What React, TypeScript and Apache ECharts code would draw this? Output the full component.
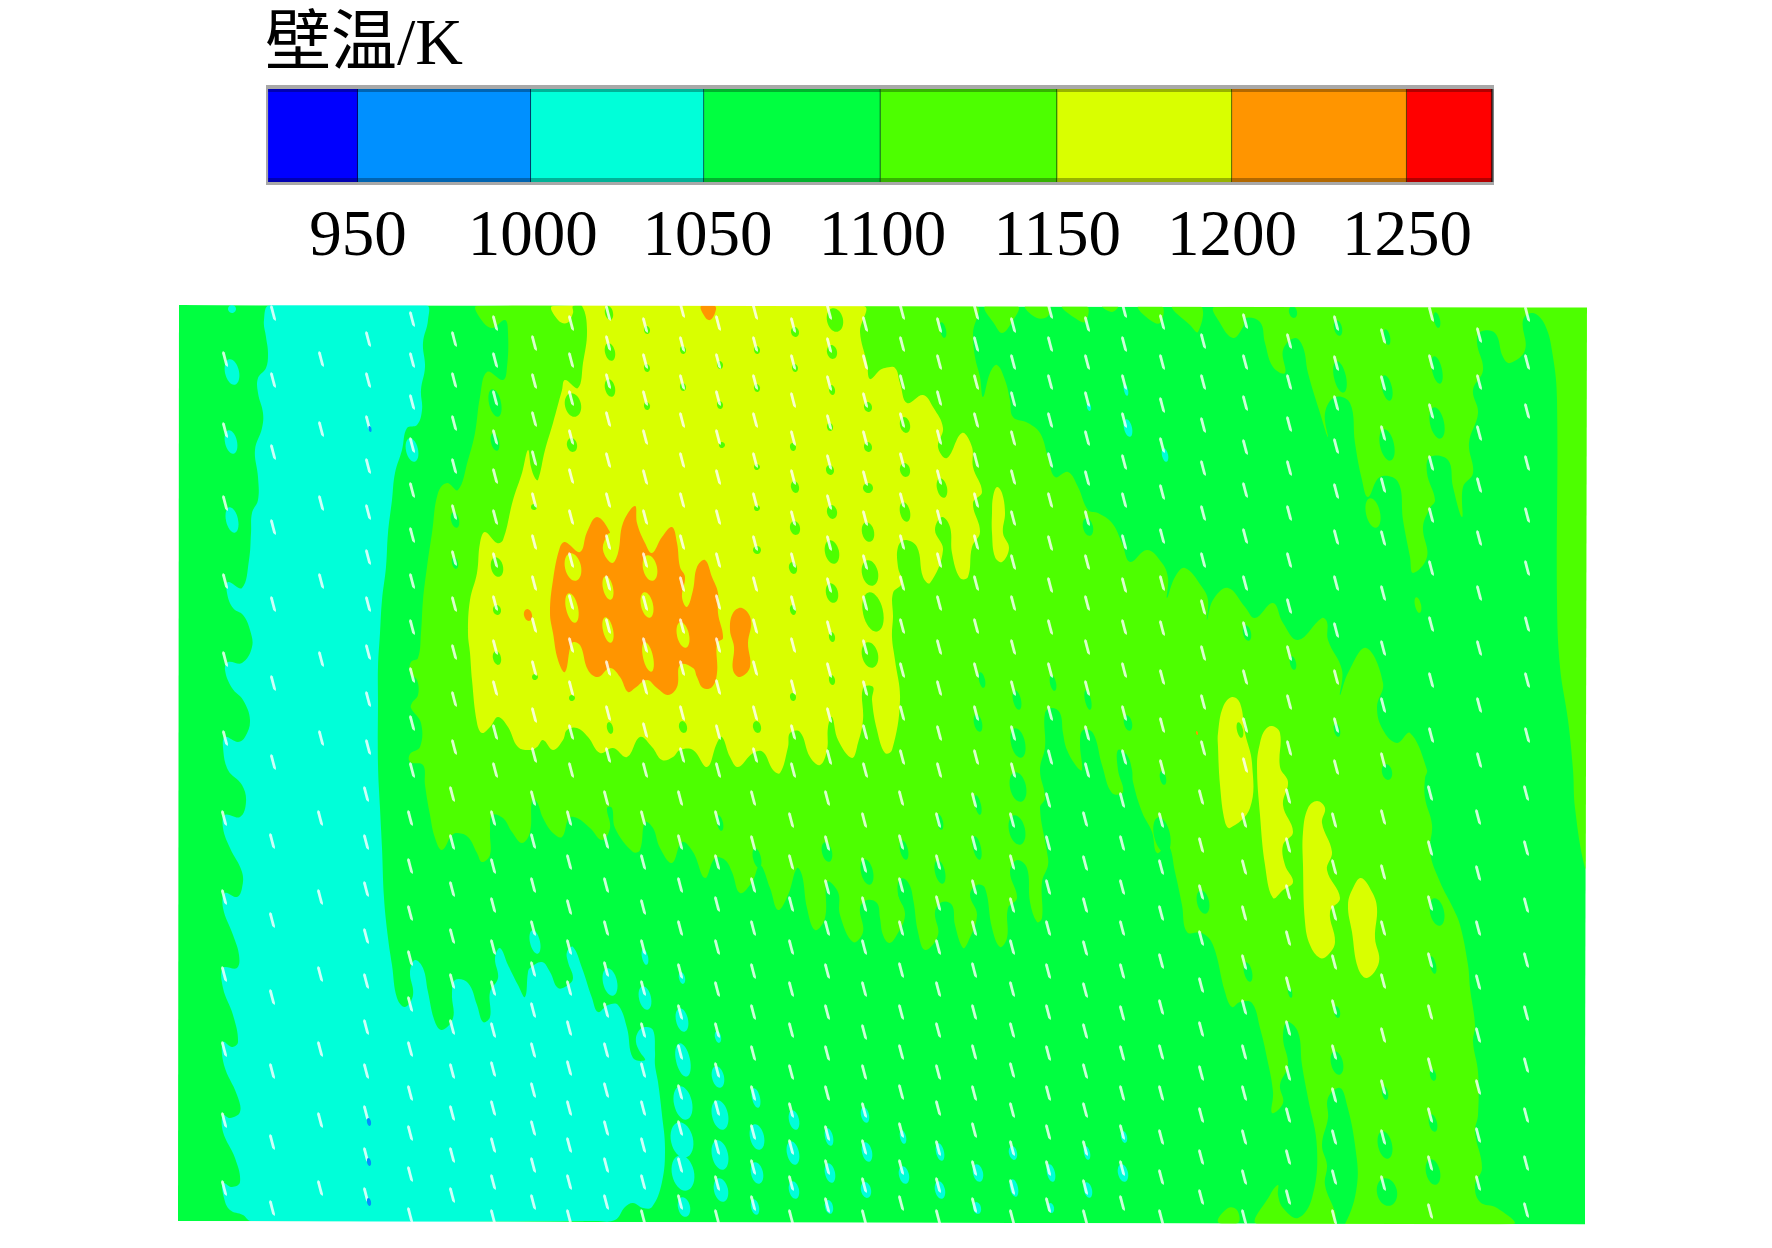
import React, { useEffect, useRef } from "react";
import * as echarts from "echarts";

type Pt = number[];

const BAND_COLORS = ["#0000ff", "#0090ff", "#00ffd9", "#00ff40", "#4dff00", "#d9ff00", "#ff9500", "#ff0000"];
const CYAN = BAND_COLORS[2], GREEN = BAND_COLORS[3], LIME = BAND_COLORS[4], YELLOW = BAND_COLORS[5], ORANGE = BAND_COLORS[6];

const barTitle = "壁温/K";
const barTicks = [950, 1000, 1050, 1100, 1150, 1200, 1250];
const barEdges = [924.3, 950, 999.5, 1049, 1099.5, 1150, 1200, 1250, 1274.3];

const fieldOutline: Pt[] = [[179, 305], [1587, 307.5], [1585, 1224.5], [178, 1221]];

const cyanMain: Pt[] = [
  [270, 305], [264, 320], [266, 337], [268, 353], [266, 368], [258, 378], [258, 393], [263, 413], [262, 428], [255, 450], [258, 477], [258, 500], [252, 513], [251, 533], [249, 560], [242, 588], [228, 582], [227, 593], [233, 608], [243, 615], [250, 630], [252, 647], [242, 663], [228, 662], [225, 670], [232, 688], [243, 700], [250, 720], [245, 737], [238, 742], [225, 737], [223, 747], [228, 770],
  [242, 785], [246, 802], [240, 817], [225, 815], [223, 828], [230, 848], [242, 872], [242, 888], [237, 897], [225, 893], [223, 908], [233, 935], [239, 955], [237, 968], [223, 968], [223, 988], [233, 1015], [238, 1042], [232, 1047], [223, 1042], [224, 1065], [237, 1095], [240, 1112], [230, 1118], [223, 1115], [223, 1132], [235, 1158], [240, 1182], [232, 1187], [223, 1183], [224, 1198], [230, 1210], [243, 1215], [251, 1221],
  [595, 1221], [615, 1220], [625, 1207], [633, 1203], [643, 1208], [652, 1207], [662, 1182], [665, 1148], [662, 1115], [658, 1082], [655, 1065], [655, 1052], [653, 1030], [645, 1027], [638, 1032], [636, 1042], [640, 1052], [645, 1060], [633, 1058], [627, 1028], [618, 1005], [608, 1005], [598, 1012], [592, 998], [582, 968], [573, 947], [567, 952], [568, 962], [573, 978], [568, 985], [558, 988], [550, 972], [542, 962], [530, 968], [528, 972], [525, 997], [518, 985], [508, 965], [500, 948], [495, 958], [498, 978], [490, 992], [490, 1017], [483, 1022], [477, 1005], [468, 983], [455, 980], [452, 995], [453, 1018], [442, 1030], [435, 1022], [428, 992], [423, 968], [415, 960], [410, 972], [413, 995], [405, 1007], [397, 998], [392, 965], [388, 938], [384, 898], [382, 848], [380, 808], [378, 765],
  [378, 700], [378, 667], [380, 633], [382, 600], [386, 567], [388, 533], [392, 500], [395, 473], [402, 450], [407, 428], [417, 425], [422, 410], [421, 390], [425, 367], [423, 343], [428, 320], [426, 305],
];

const limeCentral: Pt[] = [
  [477, 306], [975, 306], [973, 333], [975, 357], [980, 377], [983, 397], [990, 373], [997, 365], [1005, 380], [1010, 400], [1013, 417], [1028, 423], [1040, 433], [1048, 457], [1055, 477], [1068, 472], [1078, 487], [1088, 510], [1098, 513], [1112, 523], [1122, 543], [1130, 562], [1147, 550], [1162, 563], [1168, 578], [1167, 598], [1175, 577], [1185, 568], [1202, 587], [1208, 600], [1207, 620], [1213, 600], [1228, 588], [1245, 607],
  [1255, 618], [1273, 603], [1283, 623], [1298, 640], [1322, 618], [1327, 622], [1328, 640], [1342, 670], [1340, 695], [1348, 673], [1366, 648], [1383, 683], [1377, 707], [1383, 730], [1397, 743], [1410, 733], [1427, 770],
  [1425, 778], [1425, 798], [1432, 825], [1430, 852], [1440, 882], [1453, 908], [1460, 925], [1468, 965], [1470, 988], [1475, 1025], [1473, 1042], [1478, 1072], [1478, 1115], [1475, 1132], [1482, 1168], [1475, 1185], [1480, 1202], [1497, 1208], [1513, 1224],
  [1258, 1224], [1270, 1195], [1278, 1185], [1278, 1195], [1283, 1208], [1298, 1218], [1312, 1198], [1317, 1148], [1308, 1098], [1302, 1065], [1298, 1032], [1287, 1022], [1283, 1038], [1288, 1065], [1280, 1085], [1283, 1103], [1272, 1113], [1273, 1092], [1267, 1058], [1260, 1028], [1252, 1003], [1240, 1002],
  [1232, 1007], [1225, 992], [1213, 945], [1202, 933], [1187, 932], [1182, 905], [1175, 872], [1168, 845], [1157, 853], [1152, 832], [1142, 812], [1133, 782], [1132, 770], [1127, 755], [1118, 750], [1118, 770], [1123, 792], [1112, 793], [1102, 765], [1093, 733], [1083, 730], [1080, 743], [1082, 770], [1077, 767], [1067, 750], [1063, 733], [1060, 713], [1052, 708], [1045, 713], [1045, 747], [1040, 770],
  [1045, 798], [1040, 808], [1047, 852], [1048, 865], [1042, 882], [1042, 918], [1037, 922], [1030, 902], [1027, 868], [1017, 860], [1010, 872], [1017, 898], [1008, 908], [1007, 938], [1000, 947], [992, 928], [985, 888], [977, 885], [970, 895], [977, 915], [968, 942], [963, 948], [955, 925], [952, 905], [942, 902], [935, 912], [938, 935], [925, 950], [918, 932], [912, 895], [905, 885], [898, 892], [905, 915], [895, 938], [889, 943],
  [883, 935], [880, 918], [877, 903], [867, 900], [860, 908], [863, 932], [853, 942], [840, 915], [838, 892], [827, 882], [825, 918], [815, 930], [807, 908], [802, 875], [797, 868], [788, 895], [778, 910], [770, 888], [760, 865], [752, 882], [740, 893], [732, 872], [725, 860], [715, 858], [705, 878], [693, 852], [682, 842], [672, 863], [660, 848], [653, 828], [645, 822], [640, 850], [633, 852], [615, 828], [612, 808], [607, 808], [610, 828], [602, 840], [590, 828], [577, 818], [569, 818], [562, 837], [553, 833], [543, 818], [537, 802],
  [532, 800], [530, 832], [522, 843], [512, 832], [503, 818], [492, 815], [490, 832], [490, 855], [482, 862], [477, 853], [468, 837], [458, 833], [452, 835], [442, 850], [435, 838], [430, 815], [425, 785], [423, 765],
  [410, 762], [410, 754], [420, 747], [421, 723], [411, 708], [412, 703], [418, 695], [417, 680], [410, 673], [411, 662], [418, 658], [421, 633], [423, 600], [427, 567], [432, 533], [438, 493], [447, 483], [458, 490], [468, 460], [475, 433], [480, 397], [487, 372], [503, 380], [507, 367], [508, 333], [505, 320], [492, 328], [480, 318],
];

const limeEast: Pt[] = [
  [1215, 307], [1220, 323], [1233, 338], [1243, 327], [1245, 318], [1260, 322], [1265, 343], [1273, 367], [1285, 373], [1283, 350], [1295, 338], [1303, 347], [1308, 373], [1320, 413], [1328, 437], [1325, 413], [1335, 397], [1350, 403], [1355, 443], [1362, 480], [1368, 497], [1380, 477], [1398, 482], [1403, 520], [1410, 557], [1413, 573], [1427, 557], [1423, 527], [1430, 508], [1435, 500], [1427, 473], [1430, 457], [1448, 460], [1453, 487], [1462, 517], [1463, 487], [1473, 473], [1469, 443], [1478, 413], [1473, 390], [1483, 370], [1477, 343], [1480, 332], [1495, 333], [1503, 357], [1510, 363], [1525, 350], [1523, 320], [1533, 313], [1545, 325], [1553, 357], [1557, 400], [1557, 600], [1560, 667], [1568, 720], [1573, 770], [1575, 808], [1585, 868], [1590, 868], [1590, 307],
];

const limeTopBumps: Pt[][] = [
  [[985, 306], [995, 325], [1002, 333], [1010, 325], [1018, 306]],
  [[1025, 306], [1037, 318], [1048, 316], [1048, 306]],
  [[1062, 306], [1075, 318], [1085, 322], [1087, 306]],
  [[1102, 306], [1112, 312], [1118, 306]],
  [[1138, 306], [1150, 320], [1160, 323], [1162, 306]],
  [[1172, 306], [1190, 325], [1198, 332], [1201, 306]],
  [[1218, 1222], [1228, 1208], [1237, 1210], [1238, 1223]],
];

const greenPillar: Pt[] = [[1340, 1088], [1347, 1105], [1355, 1145], [1357, 1185], [1345, 1224], [1337, 1224], [1335, 1212], [1325, 1185], [1327, 1165], [1322, 1145], [1328, 1118], [1328, 1098]];

const yellowMain: Pt[] = [
  [553, 306], [863, 306], [860, 332], [867, 363], [870, 379], [880, 370], [885, 368], [895, 368], [900, 383], [907, 403], [923, 395], [933, 407], [943, 428], [938, 447], [947, 458], [962, 433], [972, 447], [973, 467], [982, 492], [973, 503], [980, 532], [972, 547], [968, 577], [960, 578], [952, 553], [950, 527], [942, 517], [935, 530], [943, 550], [930, 583], [923, 577], [917, 547], [905, 540], [898, 547], [898, 567], [902, 583], [893, 593], [893, 617], [892, 637], [895, 660], [900, 700], [892, 750], [885, 753],
  [877, 730], [872, 700], [873, 687], [863, 688], [863, 720], [858, 743], [852, 758], [838, 740], [832, 717], [828, 727], [827, 750], [820, 765], [810, 757], [800, 732], [790, 733], [788, 747], [780, 773], [773, 770], [763, 752], [753, 753], [738, 767], [730, 757], [722, 737], [717, 743], [707, 767], [693, 750], [680, 750], [673, 757], [662, 760], [652, 747], [640, 737], [627, 757], [613, 748], [600, 753], [588, 737], [577, 728], [567, 730], [563, 740], [553, 750], [543, 740], [537, 747],
  [530, 750], [518, 747], [508, 727], [498, 717], [490, 727], [482, 733], [477, 723], [472, 680], [470, 653], [468, 633], [470, 600], [477, 573], [480, 543], [485, 532], [497, 543], [503, 540], [513, 500], [522, 473], [528, 450], [531, 467], [535, 478], [538, 480], [545, 450], [553, 423], [562, 390], [565, 380], [578, 388], [583, 363], [587, 330], [582, 306], [573, 306], [573, 313], [567, 323], [558, 320],
];

const yellowBlobs: Pt[][] = [
  [[997, 487], [1002, 493], [1005, 513], [1003, 533], [1009, 548], [1002, 562], [995, 557], [992, 533], [992, 513], [993, 497]],
  [[1232, 697], [1240, 703], [1245, 733], [1252, 763], [1250, 808], [1230, 828], [1225, 822], [1220, 785], [1218, 747], [1218, 733], [1223, 707]],
  [[1272, 726], [1280, 733], [1280, 767], [1288, 782], [1283, 805], [1293, 832], [1283, 845], [1285, 865], [1293, 882], [1283, 890], [1273, 898], [1265, 865], [1260, 815], [1257, 765], [1260, 743], [1265, 730]],
  [[1317, 801], [1325, 808], [1322, 823], [1332, 852], [1327, 870], [1340, 898], [1330, 912], [1335, 942], [1328, 955], [1320, 958], [1310, 945], [1305, 922], [1303, 865], [1303, 832], [1308, 808]],
  [[1361, 878], [1372, 892], [1377, 908], [1375, 938], [1379, 962], [1367, 978], [1358, 968], [1352, 932], [1348, 905], [1353, 888]],
];

const orangeMain: Pt[] = [
  [553, 580], [560, 547], [565, 542], [580, 552], [587, 532], [597, 517], [610, 532], [607, 535], [603, 550], [612, 563], [618, 553], [623, 523], [635, 506], [637, 523], [645, 543], [652, 553], [662, 537], [672, 527], [677, 543], [680, 567], [685, 577], [682, 597], [687, 607], [693, 590], [697, 567], [705, 560], [712, 577], [718, 593], [718, 613], [723, 638], [717, 643], [717, 673], [712, 687], [703, 688], [697, 677], [693, 668], [680, 665], [677, 687], [668, 695], [657, 688], [647, 680], [635, 688], [628, 692], [620, 677], [610, 668], [598, 677], [588, 670], [580, 645], [572, 643], [565, 672], [558, 660], [553, 633], [550, 613],
];
const orangeExtras: Pt[][] = [
  [[742, 608], [751, 620], [748, 643], [750, 667], [740, 677], [733, 670], [734, 647], [730, 630], [733, 613]],
  [[701, 306], [705, 317], [710, 320], [715, 313], [715, 306]],
];
const orangeDots = [[528, 615, 4, 6], [1197, 733, 1, 2]];

const cyanDrops = [
  [232, 372, 7, 13], [231, 442, 6, 12], [232, 520, 6, 13], [232, 309, 4, 4], [412, 450, 6, 12],
  [535, 942, 5, 12], [610, 982, 7, 14], [645, 998, 6, 12], [682, 1020, 6, 12], [683, 1060, 7, 17], [718, 1077, 6, 11], [683, 1103, 9, 17], [682, 1140, 11, 18], [683, 1173, 11, 18], [684, 1207, 6, 10],
  [720, 1115, 8, 15], [720, 1155, 8, 15], [721, 1190, 7, 12], [757, 1137, 7, 13], [757, 1173, 6, 11], [755, 1207, 4, 8], [756, 1098, 4, 10], [794, 1120, 5, 10], [793, 1153, 6, 12], [794, 1190, 5, 9], [829, 1137, 4, 9], [830, 1173, 5, 10], [829, 1207, 4, 7], [867, 1152, 5, 10], [866, 1190, 5, 8], [865, 1115, 4, 8],
  [904, 1175, 5, 9], [940, 1190, 5, 9], [940, 1152, 4, 9], [903, 1137, 3, 7], [978, 1173, 5, 9], [977, 1208, 4, 6], [1014, 1188, 4, 9], [1013, 1153, 4, 7], [1051, 1173, 4, 9], [1051, 1208, 3, 5], [1088, 1190, 4, 8], [1087, 1153, 3, 7], [1123, 1173, 5, 9], [1124, 1137, 3, 6],
  [1128, 428, 4, 9], [1165, 455, 3, 7], [1126, 390, 2, 6], [1089, 407, 2, 4], [645, 957, 3, 8], [682, 978, 3, 6], [718, 1037, 3, 6],
];

const greenDrops = [
  [487, 353, 6, 11], [495, 403, 6, 14], [495, 442, 4, 9], [455, 520, 4, 8], [455, 563, 3, 6],
  [1293, 312, 4, 6], [1338, 328, 4, 8], [1437, 320, 3, 8], [1387, 337, 3, 8], [1437, 370, 5, 14], [1387, 388, 5, 13], [1437, 423, 7, 16], [1387, 445, 7, 16], [1340, 377, 6, 16], [1293, 663, 3, 7], [1247, 633, 4, 8], [1337, 730, 3, 7],
  [1387, 772, 5, 8], [1437, 912, 7, 14], [1433, 965, 3, 9], [1248, 972, 4, 10], [1290, 992, 2, 6], [1337, 1012, 3, 6], [1337, 1063, 6, 12], [1385, 1093, 3, 7], [1433, 1075, 3, 6], [1433, 1123, 4, 9], [1385, 1145, 7, 14], [1433, 1172, 7, 13], [1387, 1192, 10, 14],
  [1018, 787, 8, 15], [1017, 830, 8, 15], [978, 805, 3, 10], [940, 822, 3, 8], [904, 850, 4, 10], [940, 872, 5, 12], [977, 848, 4, 12], [905, 893, 7, 15], [1162, 835, 8, 18], [1203, 902, 6, 12], [1163, 778, 3, 7],
  [943, 330, 3, 8], [982, 680, 3, 8], [1017, 700, 4, 10], [1018, 743, 7, 15], [1053, 683, 3, 8], [1088, 700, 3, 10], [978, 723, 4, 9], [1128, 723, 4, 8], [1088, 527, 5, 9],
  [827, 852, 5, 10], [867, 872, 6, 13], [757, 858, 4, 10], [720, 823, 3, 8],
];

const limeOnGreenDrops = [[1373, 513, 7, 15], [1418, 605, 3, 8]];

const limeDrops = [
  [609, 313, 4, 7], [610, 352, 5, 9], [610, 388, 5, 9], [573, 405, 8, 12], [572, 445, 5, 7], [647, 330, 3, 4], [647, 368, 3, 4], [647, 406, 3, 4], [683, 350, 3, 4], [683, 387, 3, 4], [720, 365, 3, 4], [720, 405, 3, 4], [757, 350, 3, 4], [757, 388, 3, 4], [795, 332, 4, 5], [795, 368, 3, 4], [832, 352, 5, 7], [832, 390, 3, 5], [830, 427, 3, 4], [835, 320, 8, 12], [868, 407, 4, 5], [868, 447, 4, 5], [830, 470, 4, 5], [868, 488, 5, 5], [795, 487, 4, 6], [832, 512, 5, 7], [868, 532, 6, 10], [795, 528, 5, 7], [832, 552, 7, 12], [870, 573, 8, 13], [873, 612, 10, 20], [832, 593, 6, 10], [870, 655, 8, 13], [793, 568, 4, 6], [793, 610, 3, 5], [757, 550, 4, 4], [757, 508, 3, 3], [722, 445, 3, 3], [757, 467, 3, 3], [793, 447, 3, 4], [832, 637, 3, 5], [832, 680, 3, 5], [793, 697, 3, 4], [757, 727, 4, 6], [683, 727, 4, 6], [610, 728, 3, 6], [572, 698, 3, 3], [535, 677, 3, 3], [534, 507, 3, 3],
  [497, 567, 6, 10], [497, 610, 4, 5], [497, 658, 4, 7], [905, 425, 5, 8], [905, 470, 5, 7], [905, 512, 5, 10], [942, 488, 5, 10], [1240, 730, 3, 8],
];

const yellowInOrange = [[573, 567, 8, 14], [608, 588, 5, 12], [572, 608, 6, 15], [608, 630, 5, 13], [647, 605, 6, 13], [650, 568, 7, 13], [683, 635, 6, 13], [648, 657, 5, 15]];

const blueSpecks = [[370, 429, 1.5, 3], [369, 1122, 2, 4], [369, 1162, 2, 4], [369, 1202, 2, 4]];

// each row: column position, then the positions of the holes along it
const holeRows: number[][] = [
  [225, 359, 430, 503, 581, 659, 738], [224, 818, 897, 974, 1049, 1120, 1188],
  [273, 313, 380, 452, 527, 604, 683, 762], [272, 841, 920, 997, 1071, 1142, 1208],
  [321, 359, 429, 503, 581, 659, 738], [320, 818, 897, 974, 1049, 1120, 1188],
  [368, 339, 380, 423, 466, 512, 557, 604, 652, 699, 747], [366, 794, 842, 889, 936, 981, 1027, 1071, 1113, 1155, 1195],
  [412, 319, 360, 402, 445, 490, 535, 581, 627, 675, 723, 770], [410, 818, 866, 913, 958, 1004, 1049, 1093, 1133, 1174, 1215],
  [454, 339, 380, 423, 466, 512, 558, 604, 652, 699, 747], [452, 794, 842, 889, 936, 981, 1027, 1071, 1113, 1155, 1195],
  [495, 323, 360, 398, 437, 476, 517, 560, 603, 647, 688, 732, 770], [493, 818, 866, 905, 947, 988, 1030, 1069, 1108, 1145, 1182, 1217],
  [534, 343, 381, 419, 458, 500, 542, 583, 625, 668, 715, 755], [533, 798, 841, 885, 928, 969, 1010, 1050, 1090, 1128, 1165, 1202],
  [571, 323, 360, 398, 437, 476, 517, 560, 602, 645, 688, 732, 770], [569, 818, 862, 907, 947, 988, 1028, 1068, 1108, 1145, 1182, 1217],
  [608, 313, 343, 381, 419, 460, 500, 542, 583, 626, 668, 713, 755], [606, 798, 841, 885, 928, 969, 1010, 1050, 1090, 1128, 1165, 1202],
  [645, 325, 361, 398, 437, 477, 517, 560, 603, 645, 687, 730, 770], [643, 818, 862, 907, 947, 988, 1030, 1070, 1108, 1145, 1182, 1217],
  [682, 310, 344, 382, 420, 460, 500, 542, 584, 626, 668, 713, 755], [680, 798, 842, 885, 928, 971, 1012, 1052, 1092, 1128, 1165, 1202],
  [718, 323, 361, 398, 437, 477, 517, 560, 602, 645, 687, 732, 770], [717, 818, 862, 904, 947, 989, 1030, 1070, 1108, 1147, 1183, 1217],
  [755, 312, 344, 382, 420, 460, 500, 543, 584, 626, 668, 713, 755], [753, 798, 843, 885, 928, 971, 1012, 1053, 1093, 1132, 1167, 1203],
  [793, 325, 362, 400, 438, 477, 518, 560, 603, 645, 687, 732, 770], [791, 820, 862, 904, 947, 989, 1030, 1072, 1110, 1147, 1183, 1217],
  [829, 312, 345, 383, 422, 462, 502, 543, 585, 628, 670, 715, 757], [827, 798, 843, 887, 928, 971, 1012, 1053, 1093, 1133, 1167, 1205],
  [865, 324, 362, 400, 438, 478, 518, 562, 603, 647, 688, 732, 770], [864, 820, 865, 904, 947, 989, 1032, 1072, 1110, 1147, 1185, 1217],
  [902, 312, 344, 382, 420, 460, 500, 542, 583, 626, 670, 713, 757], [901, 798, 842, 885, 928, 970, 1012, 1052, 1092, 1130, 1167, 1203],
  [939, 325, 362, 398, 437, 477, 517, 560, 603, 647, 688, 733, 770], [938, 820, 862, 903, 947, 989, 1030, 1072, 1108, 1148, 1185, 1217],
  [976, 312, 344, 382, 420, 460, 500, 542, 583, 626, 670, 713, 757], [974, 800, 843, 887, 928, 970, 1012, 1052, 1093, 1130, 1168, 1205],
  [1013, 325, 362, 399, 438, 477, 518, 562, 603, 647, 688, 733, 770], [1012, 820, 862, 905, 947, 989, 1030, 1070, 1110, 1148, 1187, 1217],
  [1050, 311, 344, 382, 420, 460, 500, 543, 585, 627, 670, 713, 757], [1048, 800, 843, 887, 928, 971, 1012, 1053, 1093, 1132, 1168, 1205],
  [1087, 324, 362, 399, 438, 478, 518, 562, 603, 647, 688, 733, 770], [1085, 819, 863, 905, 948, 990, 1031, 1071, 1110, 1148, 1187, 1217],
  [1124, 310, 344, 382, 420, 462, 500, 542, 585, 627, 670, 713, 757], [1122, 800, 843, 887, 928, 971, 1013, 1053, 1093, 1132, 1168, 1203],
  [1162, 322, 362, 405, 445, 492, 536, 583, 628, 677, 725, 767], [1161, 820, 867, 913, 961, 1007, 1052, 1093, 1137, 1177, 1217],
  [1203, 341, 382, 425, 468, 513, 560, 607, 653, 702, 748], [1201, 797, 845, 892, 938, 985, 1029, 1073, 1115, 1157, 1197],
  [1245, 321, 362, 403, 447, 490, 536, 583, 629, 677, 725, 765], [1244, 820, 867, 913, 962, 1007, 1052, 1093, 1137, 1177, 1217],
  [1289, 341, 382, 424, 468, 513, 560, 606, 653, 702, 748], [1288, 796, 845, 892, 938, 984, 1028, 1073, 1115, 1157, 1197],
  [1336, 323, 363, 403, 446, 491, 537, 583, 630, 677, 725, 767], [1334, 820, 867, 913, 962, 1007, 1052, 1095, 1137, 1177, 1217],
  [1383, 336, 383, 433, 485, 538, 593, 648, 705, 760, 817, 872, 928, 981, 1035, 1087, 1137, 1183],
  [1431, 314, 362, 411, 463, 515, 568, 624, 680, 735], [1430, 793, 848, 903, 960, 1012, 1065, 1115, 1163, 1211],
  [1479, 335, 382, 433, 485, 538, 593, 648, 705, 760], [1478, 817, 873, 928, 982, 1035, 1087, 1135, 1183],
  [1527, 314, 362, 411, 463, 515, 568, 624, 680, 735], [1526, 793, 848, 905, 960, 1013, 1065, 1115, 1163, 1210],
];

const edgeMasks: Pt[][] = [
  [[178, 300], [1595, 300], [1595, 308], [1587, 307.5], [179, 305]],
  [[1587, 300], [1595, 300], [1595, 1230], [1585, 1230], [1585, 1224.5]],
  [[178, 1221], [1585, 1224.5], [1595, 1230], [178, 1230]],
];

const FIELD_X = [178, 1588];
const FIELD_Y = [305, 1225];
const HOLE_SYMBOL = "path://M1 0L2.8 1.5L6 14L5.6 16L3.2 14L0 2Z";

function polygons(color: string, list: Pt[][], smooth: number, z: number) {
  return {
    type: "custom",
    xAxisIndex: 1,
    yAxisIndex: 1,
    z,
    clip: true,
    silent: true,
    data: list.map((p) => ({ value: p[0] })),
    renderItem: (params: any, api: any) => ({
      type: "polygon",
      shape: { points: list[params.dataIndex].map((q) => api.coord(q)), smooth },
      style: { fill: color },
    }),
  };
}

function drops(color: string, list: number[][], z: number) {
  return {
    type: "custom",
    xAxisIndex: 1,
    yAxisIndex: 1,
    z,
    clip: true,
    silent: true,
    data: list.map((d) => ({ value: d })),
    renderItem: (_: any, api: any) => {
      const c = api.coord([api.value(0), api.value(1)]);
      return {
        type: "ellipse",
        x: c[0],
        y: c[1],
        rotation: 0.22,
        shape: { cx: 0, cy: 0, rx: api.value(2), ry: api.value(3) },
        style: { fill: color },
      };
    },
  };
}

function buildOption() {
  const holes: number[][] = [];
  holeRows.forEach((r) => r.slice(1).forEach((y) => holes.push([r[0], y])));
  const cells = BAND_COLORS.map((_, i) => [barEdges[i], barEdges[i + 1], i]);
  return {
    animation: false,
    backgroundColor: "#ffffff",
    title: {
      text: barTitle,
      left: 260,
      top: 3,
      textStyle: { fontFamily: "'Liberation Serif','Noto Sans CJK SC'", fontSize: 66, fontWeight: "normal", color: "#000" },
    },
    grid: [
      { left: 266, top: 85, width: 1228, height: 100, show: true, backgroundColor: "#a8a8a8", borderWidth: 0 },
      { left: FIELD_X[0], top: FIELD_Y[0], width: FIELD_X[1] - FIELD_X[0], height: FIELD_Y[1] - FIELD_Y[0], show: false },
    ],
    xAxis: [
      {
        type: "value",
        gridIndex: 0,
        min: 923.7,
        max: 1274.9,
        splitLine: { show: false },
        axisLine: { show: false },
        axisTick: { show: false },
        axisLabel: {
          customValues: barTicks,
          formatter: (v: number) => String(v),
          margin: 15,
          fontFamily: "'Liberation Serif'",
          fontSize: 65,
          color: "#000",
          hideOverlap: false,
        },
      },
      { type: "value", gridIndex: 1, min: FIELD_X[0], max: FIELD_X[1], show: false },
    ],
    yAxis: [
      { type: "value", gridIndex: 0, min: 0, max: 100, inverse: true, show: false },
      { type: "value", gridIndex: 1, min: FIELD_Y[0], max: FIELD_Y[1], inverse: true, show: false },
    ],
    series: [
      {
        type: "custom",
        xAxisIndex: 0,
        yAxisIndex: 0,
        silent: true,
        data: cells.map((c) => ({ value: c })),
        renderItem: (_: any, api: any) => {
          const x0 = api.coord([api.value(0), 4])[0];
          const x1 = api.coord([api.value(1), 4])[0];
          const top = api.coord([api.value(0), 4])[1];
          const bot = api.coord([api.value(0), 97])[1];
          const w = x1 - x0;
          const color = BAND_COLORS[api.value(2)];
          return {
            type: "group",
            children: [
              { type: "rect", shape: { x: x0, y: top, width: w, height: bot - top }, style: { fill: color } },
              { type: "rect", shape: { x: x0, y: top, width: w, height: 3 }, style: { fill: "rgba(0,0,0,0.3)" } },
              { type: "rect", shape: { x: x0, y: bot - 4, width: w, height: 4 }, style: { fill: "rgba(0,0,0,0.3)" } },
              { type: "rect", shape: { x: x1 - 1, y: top, width: 2.5, height: bot - top }, style: { fill: "rgba(0,0,0,0.6)" } },
            ],
          };
        },
      },
      polygons(GREEN, [fieldOutline], 0, 2),
      polygons(CYAN, [cyanMain], 0.4, 3),
      drops(CYAN, cyanDrops, 4),
      polygons(LIME, [limeCentral, limeEast, ...limeTopBumps], 0.4, 5),
      polygons(GREEN, [greenPillar], 0.4, 6),
      drops(GREEN, greenDrops, 6),
      drops(LIME, limeOnGreenDrops, 6),
      polygons(YELLOW, [yellowMain, ...yellowBlobs], 0.4, 7),
      drops(LIME, limeDrops, 8),
      polygons(ORANGE, [orangeMain, ...orangeExtras], 0.4, 9),
      drops(ORANGE, orangeDots, 9),
      drops(YELLOW, yellowInOrange, 10),
      polygons("#ffffff", edgeMasks, 0, 11),
      {
        type: "scatter",
        xAxisIndex: 1,
        yAxisIndex: 1,
        z: 12,
        silent: true,
        symbol: HOLE_SYMBOL,
        symbolSize: [6, 16],
        symbolKeepAspect: false,
        itemStyle: { color: "#ffffff" },
        data: holes,
      },
      drops(BAND_COLORS[1], blueSpecks, 13),
    ],
  };
}

export default function App() {
  const ref = useRef<HTMLDivElement>(null);
  useEffect(() => {
    document.body.style.margin = "0";
    const chart = echarts.init(ref.current!, undefined, { renderer: "svg" });
    chart.setOption(buildOption() as any);
    return () => chart.dispose();
  }, []);
  return <div ref={ref} style={{ width: 1772, height: 1248 }} />;
}
